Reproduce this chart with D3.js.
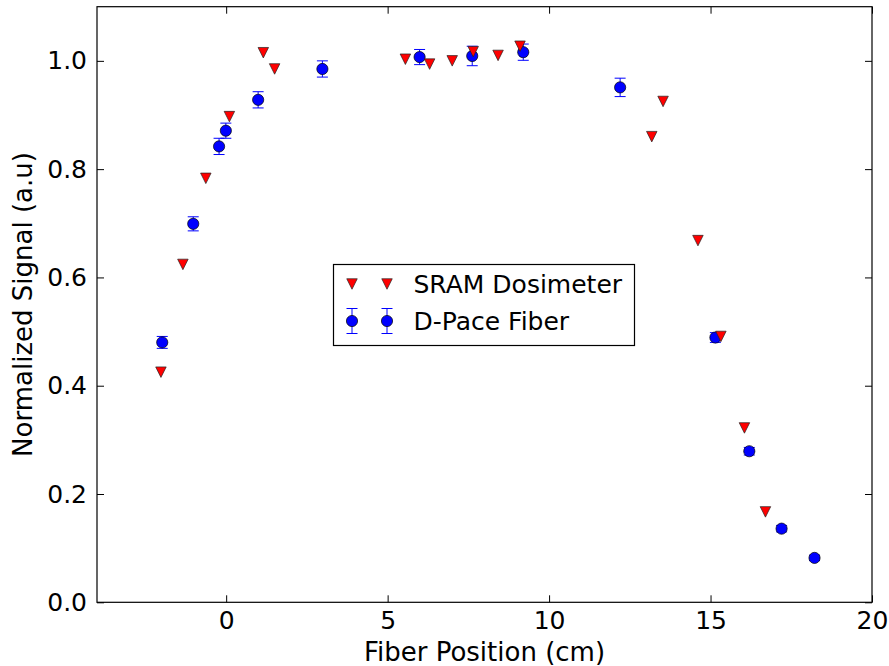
<!DOCTYPE html>
<html>
<head>
<meta charset="utf-8">
<script src="https://cdn.jsdelivr.net/npm/d3@7"></script>
<style>
  body { margin: 0; background: #fff; }
  svg { display: block; font-family: "DejaVu Sans", sans-serif; }
</style>
</head>
<body>
<svg width="889" height="666"></svg>
<script>
// SRAM dosimeter readings (triangles)
const sramX = [-2.02, -1.34, -0.63, 0.1, 1.15, 1.5, 5.55, 6.3, 7.0, 7.65, 8.42, 9.1, 13.18, 13.53, 14.61, 15.32, 16.05, 16.7];
const sramY = [0.425, 0.624, 0.783, 0.897, 1.015, 0.985, 1.003, 0.994, 1.0, 1.017, 1.010, 1.027, 0.860, 0.925, 0.668, 0.491, 0.322, 0.167];

// D-Pace fiber readings (circles with error bars)
const dpaceX = [-1.98, -1.02, -0.22, -0.01, 0.99, 2.98, 5.99, 7.62, 9.2, 12.2, 15.15, 16.2, 17.2, 18.22];
const dpaceY = [0.480, 0.699, 0.842, 0.871, 0.928, 0.985, 1.007, 1.009, 1.016, 0.951, 0.489, 0.279, 0.136, 0.082];
const dpaceErr = [0.011, 0.013, 0.015, 0.014, 0.015, 0.015, 0.014, 0.018, 0.015, 0.017, 0.009, 0.007, 0.006, 0.005];

const xTicks = [0, 5, 10, 15, 20];
const yTicks = [0.0, 0.2, 0.4, 0.6, 0.8, 1.0];
const legendLabels = ["SRAM Dosimeter", "D-Pace Fiber"];

const svg = d3.select("svg");
const margin = {left: 97, top: 6.7, right: 17, bottom: 63.7};
const width = 889 - margin.left - margin.right,
      height = 666 - margin.top - margin.bottom;
const fontSize = 25;
const labelSize = 26;

const x = d3.scaleLinear().domain([-4, 20]).range([0, width]);
const y = d3.scaleLinear().domain([0, 1.1]).range([height, 0]);

const g = svg.append("g").attr("transform", `translate(${margin.left},${margin.top})`);

// ticks inside, on all four sides (classic matplotlib look)
const tickLen = 7;
const fmtY = d3.format(".1f");

g.append("g")
    .attr("transform", `translate(0,${height})`)
    .call(d3.axisBottom(x).tickValues(xTicks).tickSize(-tickLen).tickPadding(8.5).tickFormat(d3.format("d")))
    .call(a => a.select(".domain").remove());
g.append("g")
    .call(d3.axisTop(x).tickValues(xTicks).tickSize(-tickLen).tickFormat(""))
    .call(a => a.select(".domain").remove());
g.append("g")
    .call(d3.axisLeft(y).tickValues(yTicks).tickSize(-tickLen).tickPadding(10).tickFormat(fmtY))
    .call(a => a.select(".domain").remove());
g.append("g")
    .attr("transform", `translate(${width},0)`)
    .call(d3.axisRight(y).tickValues(yTicks).tickSize(-tickLen).tickFormat(""))
    .call(a => a.select(".domain").remove());

g.selectAll(".tick line").attr("stroke", "#000").attr("stroke-width", 1);
g.selectAll(".tick text")
    .attr("font-family", "DejaVu Sans")
    .attr("font-size", fontSize)
    .attr("fill", "#000");

g.append("rect")
    .attr("width", width).attr("height", height)
    .attr("fill", "none").attr("stroke", "#000").attr("stroke-width", 1.2);

// D-Pace error bars + circles
const cap = 5.5;
const dpace = dpaceX.map((d, i) => ({x: d, y: dpaceY[i], e: dpaceErr[i]}));
const eb = g.append("g").attr("stroke", "#0000ff").attr("stroke-width", 1);
dpace.forEach(d => {
  const cx = x(d.x), y0 = y(d.y - d.e), y1 = y(d.y + d.e);
  eb.append("line").attr("x1", cx).attr("x2", cx).attr("y1", y0).attr("y2", y1);
  eb.append("line").attr("x1", cx - cap).attr("x2", cx + cap).attr("y1", y0).attr("y2", y0);
  eb.append("line").attr("x1", cx - cap).attr("x2", cx + cap).attr("y1", y1).attr("y2", y1);
});
g.append("g").selectAll("circle")
  .data(dpace)
  .join("circle")
    .attr("cx", d => x(d.x))
    .attr("cy", d => y(d.y))
    .attr("r", 5.6)
    .attr("fill", "#0000ff")
    .attr("stroke", "#000")
    .attr("stroke-width", 0.7);

// SRAM downward triangles
const tri = s => `M${-s / 2},${-s / 2}L${s / 2},${-s / 2}L0,${s / 2}Z`;
const triSize = 10.5;
g.append("g").selectAll("path")
  .data(sramX.map((d, i) => ({x: d, y: sramY[i]})))
  .join("path")
    .attr("transform", d => `translate(${x(d.x)},${y(d.y)})`)
    .attr("d", tri(triSize))
    .attr("fill", "#ff0000")
    .attr("stroke", "#222")
    .attr("stroke-width", 0.7);

// axis labels
svg.append("text")
    .attr("x", margin.left + width / 2)
    .attr("y", 661)
    .attr("text-anchor", "middle")
    .attr("font-size", labelSize)
    .text("Fiber Position (cm)");
svg.append("text")
    .attr("transform", `translate(32,${margin.top + height / 2}) rotate(-90)`)
    .attr("text-anchor", "middle")
    .attr("font-size", labelSize)
    .text("Normalized Signal (a.u)");

// legend
const legend = svg.append("g").attr("transform", "translate(333.5,264.5)");
legend.append("rect")
    .attr("width", 301).attr("height", 81)
    .attr("fill", "#fff").attr("stroke", "#000").attr("stroke-width", 1.2);
const rowY = [19.5, 56.5];
const mx = [18.5, 53.5];
legend.selectAll("text.lab")
  .data(legendLabels)
  .join("text")
    .attr("class", "lab")
    .attr("x", 80)
    .attr("y", (d, i) => rowY[i])
    .attr("dy", "0.36em")
    .attr("font-size", fontSize)
    .text(d => d);
mx.forEach(px => {
  legend.append("path")
      .attr("transform", `translate(${px},${rowY[0]})`)
      .attr("d", tri(triSize))
      .attr("fill", "#ff0000").attr("stroke", "#222").attr("stroke-width", 0.7);
  const ly = rowY[1];
  const lg = legend.append("g").attr("stroke", "#0000ff").attr("stroke-width", 1);
  lg.append("line").attr("x1", px).attr("x2", px).attr("y1", ly - 12.5).attr("y2", ly + 12.5);
  lg.append("line").attr("x1", px - cap).attr("x2", px + cap).attr("y1", ly - 12.5).attr("y2", ly - 12.5);
  lg.append("line").attr("x1", px - cap).attr("x2", px + cap).attr("y1", ly + 12.5).attr("y2", ly + 12.5);
  legend.append("circle")
      .attr("cx", px).attr("cy", ly).attr("r", 5.6)
      .attr("fill", "#0000ff").attr("stroke", "#000").attr("stroke-width", 0.7);
});
</script>
</body>
</html>
